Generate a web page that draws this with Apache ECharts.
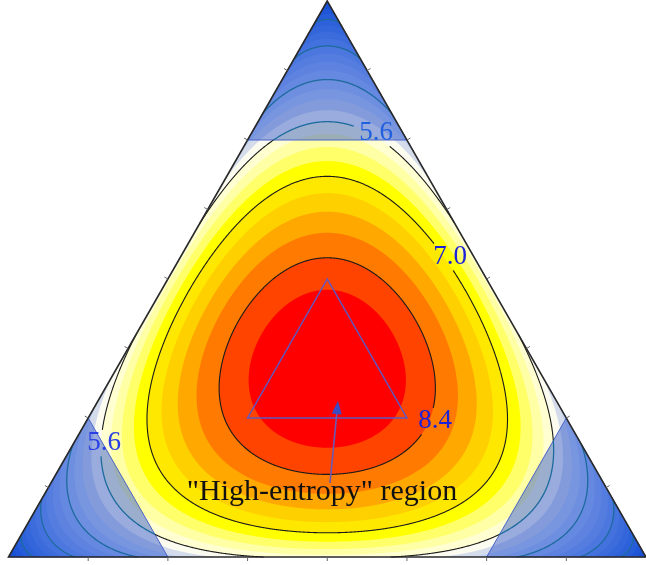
<!DOCTYPE html>
<html>
<head>
<meta charset="utf-8">
<script src="https://cdn.jsdelivr.net/npm/echarts@6/dist/echarts.min.js"></script>
<style>
  html, body { margin: 0; padding: 0; background: #ffffff; }
  #chart { width: 646px; height: 565px; }
</style>
</head>
<body>
<div id="chart"></div>
<script>
// Ideal configurational (mixing) entropy of a three-component system,
// S = -R * sum(x_i ln x_i), drawn as filled contours on a ternary diagram.
const R = 8.314; // J/(mol K)

// Filled-band boundaries (J/(mol K))
const fillLevels = [0.35, 0.70, 1.05, 1.40, 1.75, 2.10, 2.45, 2.80, 3.15, 3.50,
                    3.85, 4.20, 4.55, 4.90, 5.25, 5.60, 5.95, 6.30, 6.65, 7.00,
                    7.35, 7.70, 8.05, 8.40, 8.75, 9.10];
// One colour per band: below fillLevels[0], then between successive levels, then above the last
const bandColors = ['#0046de', '#0a50e1', '#165ae4', '#2264e7', '#306eea', '#3e78ec',
                    '#4c82ee', '#5a8cf0', '#6a97f1', '#7aa2f3', '#8aadf4', '#9ab8f5',
                    '#abc4f6', '#bdd0f5', '#d4dcec', '#fbfbf0', '#ffffd2', '#ffffa6',
                    '#ffff6a', '#ffff00', '#ffe800', '#ffd000', '#ffa800', '#ff7a00',
                    '#ff4400', '#ff0000', '#ff0000'];
// Contour lines drawn on top
const lineLevels = [1.4, 2.8, 4.2, 5.6, 7.0, 8.4];
// Level labels written on the lines
const levelLabels = ['5.6', '5.6', '7.0', '8.4'];
// Composition limits: corners where one element exceeds 75 %, and the
// "high-entropy" window where every element is at least 25 %
const conventionalMin = 0.75;
const highEntropyMin = 0.25;
// Composition ticks along each edge
const tickFractions = [0.125, 0.25, 0.375, 0.5, 0.625, 0.75, 0.875];
const regionLabel = '"High-entropy" region';

// ---- ternary helpers: a = top, b = bottom-left, c = bottom-right ----
function toXY(a, b, c) { return [c + a / 2, a]; }
function fromXY(x, y) {
  const a = y, c = x - y / 2, b = 1 - a - c;
  return [a, b, c];
}
function entropy(a, b, c) {
  let s = 0;
  for (const v of [a, b, c]) if (v > 1e-12) s -= v * Math.log(v);
  return R * s;
}
function entropyXY(x, y) {
  const t = fromXY(x, y);
  return entropy(Math.max(t[0], 0), Math.max(t[1], 0), Math.max(t[2], 0));
}
function inCorner(x, y) {
  const t = fromXY(x, y);
  return Math.max(t[0], t[1], t[2]) >= conventionalMin;
}

// Rays from the equimolar point; S falls monotonically along each one
const RAYS = 1800;
const CX = 0.5, CY = 1 / 3;
const rays = [];
for (let i = 0; i < RAYS; i++) {
  const th = 2 * Math.PI * i / RAYS;
  const dx = Math.cos(th), dy = Math.sin(th) / 0.8660254;
  const slopes = [dy, dx - dy / 2, -(dx + dy / 2)];
  let rmax = Infinity;
  for (const s of slopes) if (s < 0) rmax = Math.min(rmax, (1 / 3) / (-s));
  rays.push({ dx, dy, rmax, sEdge: entropyXY(CX + rmax * dx, CY + rmax * dy) });
}
const boundaryCache = {};
function boundaryOf(level) {
  const key = level.toFixed(3);
  if (boundaryCache[key]) return boundaryCache[key];
  const out = rays.map(ray => {
    let r, edge = false;
    if (ray.sEdge >= level) { r = ray.rmax; edge = true; }
    else {
      let lo = 0, hi = ray.rmax;
      for (let k = 0; k < 40; k++) {
        const mid = (lo + hi) / 2;
        if (entropyXY(CX + mid * ray.dx, CY + mid * ray.dy) >= level) lo = mid; else hi = mid;
      }
      r = (lo + hi) / 2;
    }
    return { x: CX + r * ray.dx, y: CY + r * ray.dy, edge };
  });
  boundaryCache[key] = out;
  return out;
}

// ---- layout of the level labels (pixel centres) ----
const labelSpots = [
  { x: 376, y: 133, color: '#1f5fe0' },
  { x: 104, y: 443, color: '#2a40e6' },
  { x: 450, y: 257, color: '#1c22d8' },
  { x: 435, y: 421, color: '#1c22d8' }
];
const LABEL_FONT = 27;
function inGap(p) {
  for (const s of labelSpots) {
    if (Math.abs(p[0] - s.x) < 22 && Math.abs(p[1] - s.y) < 13) return true;
  }
  return false;
}

const chart = echarts.init(document.getElementById('chart'), null, { renderer: 'canvas' });

const vertices = [toXY(1, 0, 0), toXY(0, 1, 0), toXY(0, 0, 1)];

const bandSeries = {
  type: 'custom',
  coordinateSystem: 'cartesian2d',
  silent: true,
  z: 1,
  data: bandColors.map((c, i) => [i, 0]),
  renderItem: function (params, api) {
    const k = params.dataIndex;
    let pts;
    if (k === 0) pts = vertices.map(v => api.coord(v));
    else pts = boundaryOf(fillLevels[k - 1]).map(p => api.coord([p.x, p.y]));
    return { type: 'polygon', shape: { points: pts }, style: { fill: bandColors[k], stroke: null } };
  }
};

const cornerSeries = {
  type: 'custom',
  coordinateSystem: 'cartesian2d',
  silent: true,
  z: 2,
  data: [[0, 0], [1, 0], [2, 0]],
  renderItem: function (params, api) {
    const m = conventionalMin, r = 1 - m;
    const corners = [
      [[1, 0, 0], [m, r, 0], [m, 0, r]],
      [[0, 1, 0], [r, m, 0], [0, m, r]],
      [[0, 0, 1], [r, 0, m], [0, r, m]]
    ][params.dataIndex];
    const pts = corners.map(t => api.coord(toXY(t[0], t[1], t[2])));
    return {
      type: 'polygon', shape: { points: pts },
      style: { fill: 'rgba(42,82,200,0.47)', stroke: '#4a64c8', lineWidth: 1 }
    };
  }
};

const lineSeries = {
  type: 'custom',
  coordinateSystem: 'cartesian2d',
  silent: true,
  z: 3,
  data: lineLevels.map((l, i) => [i, 0]),
  renderItem: function (params, api) {
    const level = lineLevels[params.dataIndex];
    const b = boundaryOf(level);
    const n = b.length;
    let start = b.findIndex(p => p.edge);
    if (start < 0) start = 0;
    const paths = [];
    let cur = null, curColor = null;
    const flush = () => { if (cur && cur.length > 1) paths.push({ pts: cur, color: curColor }); cur = null; };
    for (let k = 0; k < n; k++) {
      const p0 = b[(start + k) % n], p1 = b[(start + k + 1) % n];
      if (p0.edge || p1.edge) { flush(); continue; }
      const q0 = api.coord([p0.x, p0.y]), q1 = api.coord([p1.x, p1.y]);
      if (inGap(q0) || inGap(q1)) { flush(); continue; }
      const col = inCorner((p0.x + p1.x) / 2, (p0.y + p1.y) / 2) ? '#1d6b9e' : '#1a1a1a';
      if (cur && col !== curColor) flush();
      if (!cur) { cur = [q0]; curColor = col; }
      cur.push(q1);
    }
    flush();
    return {
      type: 'group',
      children: paths.map(p => ({
        type: 'polyline', shape: { points: p.pts },
        style: { stroke: p.color, lineWidth: p.color === '#1a1a1a' ? 1.1 : 1.3, fill: null }
      }))
    };
  }
};

const frameSeries = {
  type: 'custom',
  coordinateSystem: 'cartesian2d',
  silent: true,
  z: 4,
  data: [[0, 0]],
  renderItem: function (params, api) {
    const P = vertices.map(v => api.coord(v));
    const children = [{
      type: 'polygon', shape: { points: P },
      style: { fill: null, stroke: '#2a2a2a', lineWidth: 1.6 }
    }];
    // ticks on each edge, pointing away from the triangle
    const centre = api.coord([CX, CY]);
    for (let e = 0; e < 3; e++) {
      const A = P[e], B = P[(e + 1) % 3];
      const ex = B[0] - A[0], ey = B[1] - A[1];
      const len = Math.hypot(ex, ey);
      let nx = -ey / len, ny = ex / len;
      const mx = (A[0] + B[0]) / 2, my = (A[1] + B[1]) / 2;
      if ((mx - centre[0]) * nx + (my - centre[1]) * ny < 0) { nx = -nx; ny = -ny; }
      for (const f of tickFractions) {
        const px = A[0] + ex * f, py = A[1] + ey * f;
        children.push({
          type: 'line',
          shape: { x1: px, y1: py, x2: px + nx * 4, y2: py + ny * 4 },
          style: { stroke: '#666666', lineWidth: 1 }
        });
      }
    }
    // "high-entropy" window
    const m = highEntropyMin, top = 1 - 2 * m;
    const inner = [[top, m, m], [m, top, m], [m, m, top]].map(t => api.coord(toXY(t[0], t[1], t[2])));
    children.push({
      type: 'polygon', shape: { points: inner },
      style: { fill: null, stroke: '#5e58c0', lineWidth: 1.5 }
    });
    return { type: 'group', children };
  }
};

// arrow from the caption into the window
const arrowFrom = [330, 483], arrowTo = [338, 401];
const ang = Math.atan2(arrowTo[1] - arrowFrom[1], arrowTo[0] - arrowFrom[0]);
const headLen = 13, headHalf = 5;
const hb = [arrowTo[0] - headLen * Math.cos(ang), arrowTo[1] - headLen * Math.sin(ang)];
const headPts = [
  arrowTo,
  [hb[0] + headHalf * Math.sin(ang), hb[1] - headHalf * Math.cos(ang)],
  [hb[0] - headHalf * Math.sin(ang), hb[1] + headHalf * Math.cos(ang)]
];

const graphics = [
  {
    type: 'line', z: 10, silent: true,
    shape: { x1: arrowFrom[0], y1: arrowFrom[1], x2: hb[0], y2: hb[1] },
    style: { stroke: '#6a5ab8', lineWidth: 1.6 }
  },
  {
    type: 'polygon', z: 10, silent: true,
    shape: { points: headPts },
    style: { fill: '#3a4cc4' }
  },
  {
    type: 'text', z: 11, silent: true,
    x: 322, y: 492,
    style: {
      text: regionLabel, font: '30px "Liberation Serif", "Times New Roman", serif',
      fill: '#111111', align: 'center', verticalAlign: 'middle'
    }
  }
].concat(levelLabels.map((t, i) => ({
  type: 'text', z: 11, silent: true,
  x: labelSpots[i].x, y: labelSpots[i].y,
  style: {
    text: t, font: LABEL_FONT + 'px "Liberation Serif", "Times New Roman", serif',
    fill: labelSpots[i].color, align: 'center', verticalAlign: 'middle'
  }
})));

chart.setOption({
  animation: false,
  backgroundColor: '#ffffff',
  grid: { left: 8.5, top: 1, width: 645, height: 556, show: false },
  xAxis: { type: 'value', min: 0, max: 1, show: false },
  yAxis: { type: 'value', min: 0, max: 1, show: false },
  series: [bandSeries, cornerSeries, lineSeries, frameSeries],
  graphic: graphics
});
</script>
</body>
</html>
